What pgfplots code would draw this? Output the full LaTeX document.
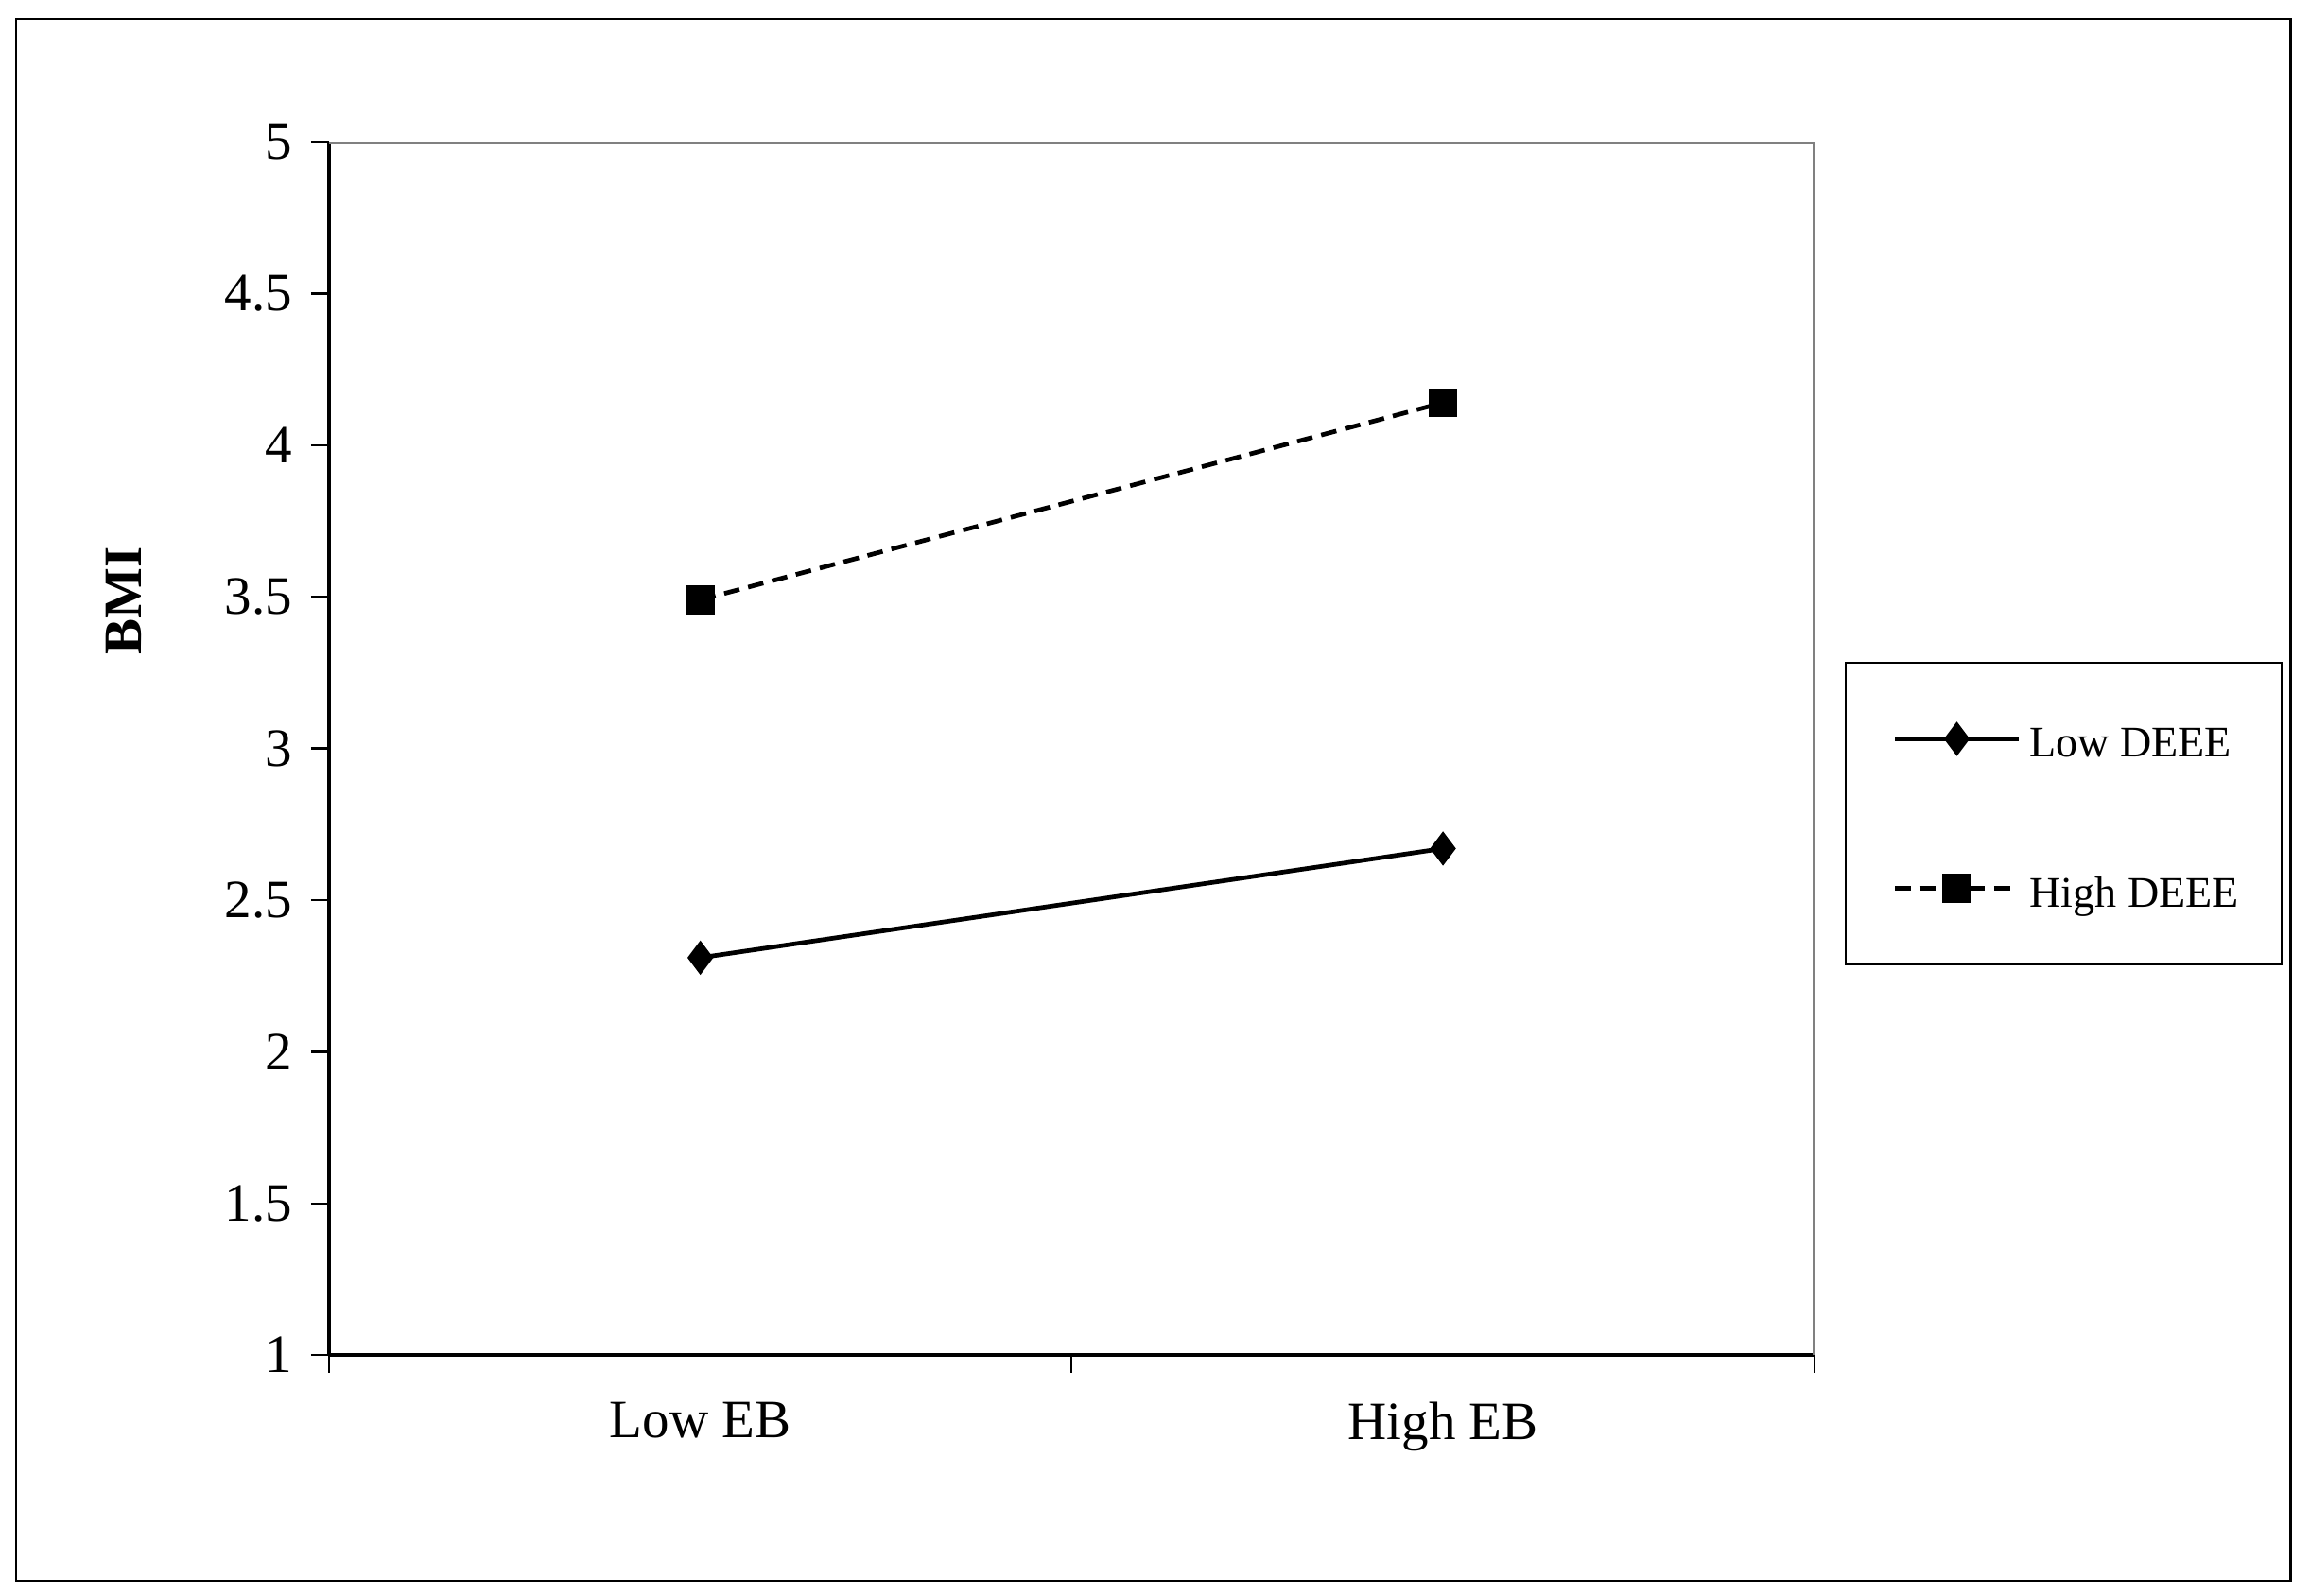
\documentclass[border=0pt]{standalone}
\usepackage{pgfplots}
\pgfplotsset{compat=1.18}
\usepackage{fontspec}
\setmainfont{Liberation Serif}
\begin{document}
\fontsize{12}{14.4}\selectfont
\begin{tikzpicture}
\path[use as bounding box] (0,0) rectangle (514.3pt,-355.3pt);
\draw[line width=0.55pt] (3.6pt,-4.2pt) rectangle (510.0pt,-352.0pt);
\begin{axis}[
  at={(73.25pt,-31.6pt)}, anchor=north west,
  scale only axis, width=330.7pt, height=270.1pt,
  xmin=0, xmax=2, ymin=1, ymax=5,
  axis lines*=left,
  axis line style={-, line width=0.8pt, black},
  xtick={0.5,1.5}, xticklabels={Low EB, High EB},
  minor xtick={0,1,2},
  ytick={1,1.5,2,2.5,3,3.5,4,4.5,5},
  tick align=outside,
  major x tick style={draw=none},
  minor x tick style={black, line width=0.4pt},
  y tick style={black, line width=0.5pt},
  major tick length=4pt, minor tick length=3.9pt,
  /pgf/number format/assume math mode=true,
  tick label style={font=\fontsize{12}{14.4}\selectfont},
  xticklabel style={yshift=-2.3pt},
  ylabel={\textbf{BMI}},
  ylabel style={at={(axis description cs:-0.138,0.622)}, anchor=center, font=\fontsize{12}{14.4}\selectfont},
  legend style={at={(axis description cs:1.0204,0.5715)}, anchor=north west,
    draw=black, line width=0.55pt,
    font=\fontsize{9.7}{11.5}\selectfont,
    inner xsep=7.5pt, inner ysep=10.8pt, row sep=21.1pt,
    nodes={text height=8.2pt, text depth=0pt}},
  legend cell align=left,
  legend image code/.code={\path (0pt,0pt); \draw[mark repeat=2,mark phase=2,#1] plot coordinates {(3pt,0pt)(16.7pt,0pt)(30.4pt,0pt)};},
]
\addplot[black, line width=1pt, mark=diamond*, mark size=3pt, mark options={solid}]
  coordinates {(0.5,2.31) (1.5,2.67)};
\addlegendentry{Low DEEE}
\addplot[black, line width=1pt, dash pattern=on 3.5pt off 2pt, mark=square*, mark size=2.7pt, mark options={solid}]
  coordinates {(0.5,3.49) (1.5,4.14)};
\addlegendentry{High DEEE}
\draw[gray, line width=0.9pt] (rel axis cs:0,1) -- (rel axis cs:1,1) -- (rel axis cs:1,0);
\end{axis}
\end{tikzpicture}
\end{document}
